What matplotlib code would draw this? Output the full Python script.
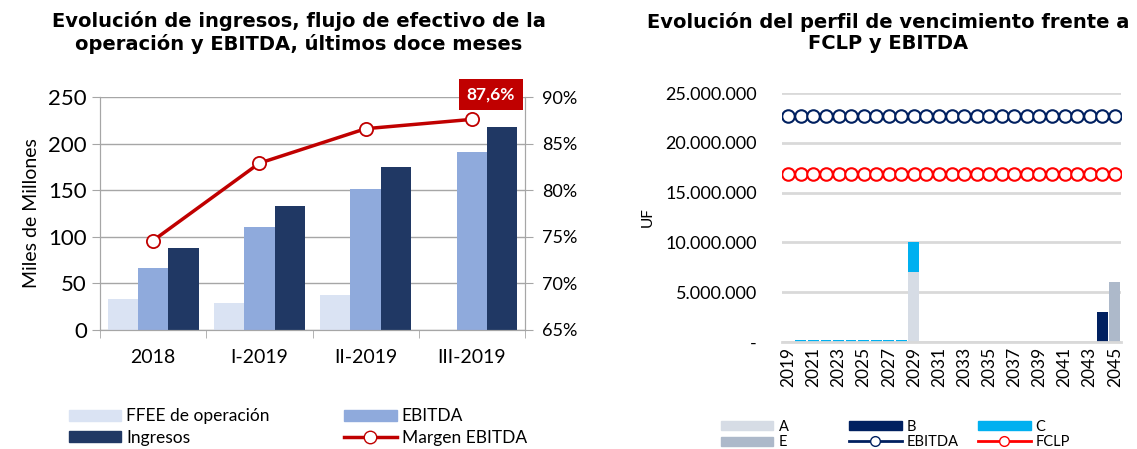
import numpy as np
import matplotlib
matplotlib.use("Agg")
from matplotlib import pyplot as plt
from matplotlib.lines import Line2D
from matplotlib.patches import Patch
from matplotlib.ticker import FuncFormatter

plt.rcParams['font.family'] = ['Lato', 'DejaVu Sans']

# left chart data
periodos = ['2018', 'I-2019', 'II-2019', 'III-2019']
ffee = [33, 29, 38, 0]
ebitda = [66, 110, 151, 191]
ingresos = [88, 133, 175, 218]
margen = [74.6, 82.9, 86.6, 87.6]

# right chart data
anios = list(range(2019, 2046))
serie_a = [0] + [0] * 9 + [7000000] + [0] * 16
serie_b = [0] * 25 + [3000000, 0]
serie_c = [0] + [200000] * 9 + [3000000] + [0] * 16
serie_e = [0] * 26 + [6000000]
ebitda_uf = [22700000] * 27
fclp_uf = [16850000] * 27

W, H = 1137, 449
fig = plt.figure(figsize=(W / 100, H / 100), dpi=100)

############# left chart #############
ax = fig.add_axes([100 / W, 1 - 330 / H, 425 / W, 233 / H])
x = np.arange(len(periodos))
w = 0.285
ax.bar(x - w, ffee, w, color='#DAE3F3', zorder=2)
ax.bar(x, ebitda, w, color='#8FAADC', zorder=2)
ax.bar(x + w, ingresos, w, color='#203864', zorder=2)
ax.set_xlim(-0.5, 3.5)
ax.set_ylim(0, 250)
ax.set_yticks(range(0, 251, 50))
ax.grid(axis='y', color='#A6A6A6', lw=1, zorder=0)
ax.set_xticks(x)
ax.set_xticklabels(periodos, fontsize=14)
ax.set_xticks(np.arange(-0.5, 4, 1), minor=True)
ax.tick_params(axis='x', which='major', length=0, pad=14)
ax.tick_params(axis='x', which='minor', length=6, color='#A6A6A6')
ax.tick_params(axis='y', labelsize=16, length=6, color='#A6A6A6')
ax.set_ylabel('Miles de Millones', fontsize=14, labelpad=6)
ax.spines['top'].set_visible(False)
for s in ['left', 'right', 'bottom']:
    ax.spines[s].set_color('#A6A6A6')

ax2 = ax.twinx()
ax2.plot(x, margen, color='#C00000', lw=2.5, marker='o', ms=9.5, mfc='white',
         mec='#C00000', mew=1.3, zorder=5)
ax2.set_ylim(65, 90)
ax2.set_yticks(range(65, 91, 5))
ax2.yaxis.set_major_formatter(FuncFormatter(lambda v, p: '%d%%' % v))
ax2.tick_params(axis='y', labelsize=13, length=6, color='#A6A6A6', pad=6)
ax2.spines['top'].set_visible(False)
for s in ['left', 'right', 'bottom']:
    ax2.spines[s].set_color('#A6A6A6')
ax2.text(3.18, 90.27, ('%.1f%%' % margen[-1]).replace('.', ','), ha='center', va='center',
         fontsize=12.5, fontweight='bold', color='white', clip_on=False, zorder=6,
         bbox=dict(boxstyle='square,pad=0.45', fc='#C00000', ec='none'))

h1 = [Patch(color='#DAE3F3'), Patch(color='#203864'), Patch(color='#8FAADC'),
      Line2D([], [], color='#C00000', lw=2.5, marker='o', ms=9, mfc='white', mec='#C00000')]
l1 = ['FFEE de operación', 'Ingresos', 'EBITDA', 'Margen EBITDA']
fig.legend(h1, l1, loc='center left', bbox_to_anchor=(69 / W, 1 - 427 / H), ncol=2,
           frameon=False, fontsize=12.5, handlelength=3.0, handleheight=0.6,
           columnspacing=4.3, labelspacing=0.3, handletextpad=0.3,
           borderpad=0, borderaxespad=0)

fig.text(0.263, 0.928, 'Evolución de ingresos, flujo de efectivo de la\noperación y EBITDA, últimos doce meses',
         ha='center', va='center', fontsize=14, fontweight='bold', family='DejaVu Sans',
         linespacing=1.15)

############# right chart #############
bx = fig.add_axes([782 / W, 1 - 342 / H, 339 / W, 249 / H])
xa = np.arange(len(anios))
bw = 0.85
a = np.array(serie_a)
c = np.array(serie_c)
bx.bar(xa, a, bw, color='#D6DCE5', zorder=2)
bx.bar(xa, c, bw, bottom=a, color='#00B0F0', zorder=2)
bx.bar(xa, serie_b, bw, color='#002060', zorder=2)
bx.bar(xa, serie_e, bw, color='#ADB9CA', zorder=2)
bx.plot(xa, ebitda_uf, color='#002060', lw=1.5, marker='o', ms=9, mfc='white',
        mec='#002060', mew=1.5, zorder=4)
bx.plot(xa, fclp_uf, color='#FF0000', lw=1.5, marker='o', ms=9, mfc='white',
        mec='#FF0000', mew=1.5, zorder=4)
bx.set_xlim(-0.5, len(anios) - 0.5)
bx.set_ylim(0, 25000000)
bx.set_yticks(range(0, 25000001, 5000000))
bx.yaxis.set_major_formatter(FuncFormatter(
    lambda v, p: '-' if v == 0 else '{:,.0f}'.format(v).replace(',', '.')))
bx.set_xticks(xa[::2])
bx.set_xticklabels([str(y) for y in anios[::2]], rotation=90, fontsize=12.5)
bx.tick_params(axis='both', length=0)
bx.tick_params(axis='y', labelsize=13, pad=18)
bx.grid(axis='y', color='#D9D9D9', lw=2, zorder=0)
for s in ['top', 'left', 'right']:
    bx.spines[s].set_visible(False)
bx.spines['bottom'].set_color('#D9D9D9')
bx.spines['bottom'].set_linewidth(2)
bx.set_ylabel('UF', fontsize=11, labelpad=8)

# one legend per column, Excel-style fixed column widths
cols = [
    ([Patch(color='#D6DCE5'), Patch(color='#ADB9CA')], ['A', 'E'], 721),
    ([Patch(color='#002060'),
      Line2D([], [], color='#002060', lw=2, marker='o', ms=7, mfc='white', mec='#002060')],
     ['B', 'EBITDA'], 849),
    ([Patch(color='#00B0F0'),
      Line2D([], [], color='#FF0000', lw=2, marker='o', ms=7, mfc='white', mec='#FF0000')],
     ['C', 'FCLP'], 978),
]
for hs, ls, px in cols:
    fig.legend(hs, ls, loc='center left', bbox_to_anchor=(px / W, 1 - 434.5 / H),
               frameon=False, fontsize=10.5, handlelength=3.6, handleheight=0.6,
               labelspacing=0.12, handletextpad=0.35, borderpad=0, borderaxespad=0)

fig.text(0.781, 0.928, 'Evolución del perfil de vencimiento frente a\nFCLP y EBITDA',
         ha='center', va='center', fontsize=14, fontweight='bold', family='DejaVu Sans',
         linespacing=1.15)

fig.savefig('out.png', dpi=100)
